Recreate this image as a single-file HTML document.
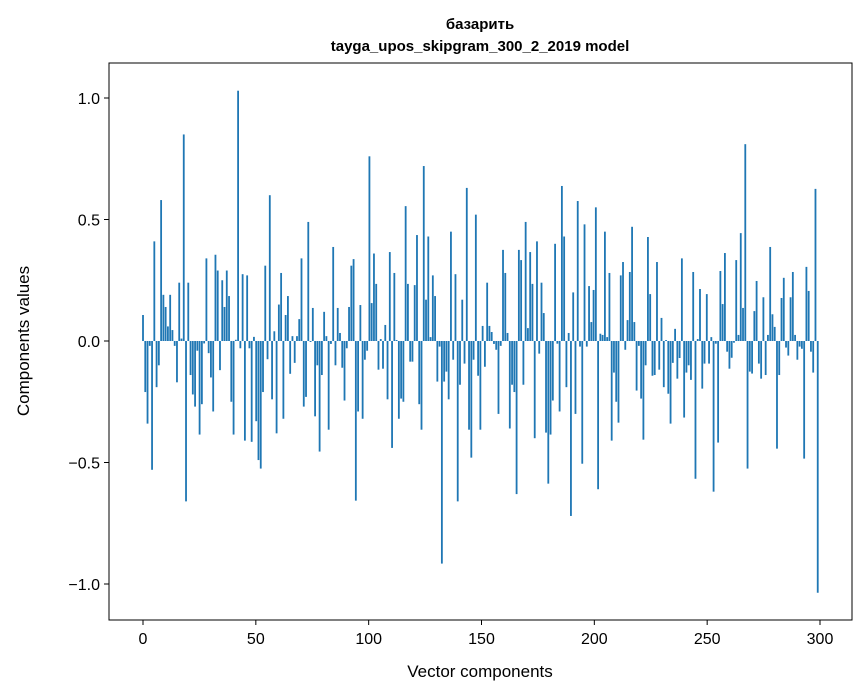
<!DOCTYPE html>
<html><head><meta charset="utf-8"><style>
html,body{margin:0;padding:0;background:#fff}
svg{display:block}
text{font-family:"Liberation Sans","DejaVu Sans",sans-serif;fill:#000}
</style></head><body>
<svg id="s" width="867" height="696" viewBox="0 0 867 696" xmlns="http://www.w3.org/2000/svg">
<rect width="867" height="696" fill="#fff"/>
<text x="480" y="29" text-anchor="middle" font-size="15" font-weight="bold">базарить</text>
<text x="480" y="51" text-anchor="middle" font-size="15" font-weight="bold">tayga_upos_skipgram_300_2_2019 model</text>
<g id="bars" fill="#1f77b4"></g>
<rect x="109" y="63" width="743" height="557" fill="none" stroke="#000" stroke-width="1"/>
<g id="ticks" stroke="#000" stroke-width="1"></g>
<g id="labels" font-size="16"></g>
<text x="480" y="677" text-anchor="middle" font-size="17">Vector components</text>
<text transform="translate(29,341) rotate(-90)" text-anchor="middle" font-size="17">Components values</text>
</svg>
<script>
var v=[0.107,-0.21,-0.34,-0.02,-0.53,0.41,-0.19,-0.10,0.58,0.19,0.14,0.06,0.19,0.045,-0.02,-0.17,0.24,0.01,0.85,-0.66,0.24,-0.14,-0.22,-0.27,-0.04,-0.385,-0.26,-0.01,0.34,-0.05,-0.15,-0.29,0.355,0.29,-0.12,0.25,0.14,0.29,0.185,-0.25,-0.385,0.005,1.03,-0.03,0.275,-0.41,0.27,-0.03,-0.415,0.017,-0.33,-0.49,-0.525,-0.21,0.31,-0.075,0.6,-0.24,0.04,
-0.38,0.15,0.28,-0.32,0.107,0.185,-0.135,0.02,-0.09,0.02,0.09,0.34,-0.27,-0.23,0.49,-0.004,0.136,-0.31,-0.10,-0.455,-0.14,0.12,0.02,-0.365,-0.012,0.387,-0.10,0.136,0.033,-0.11,-0.245,-0.03,0.14,0.31,0.337,-0.657,-0.29,0.148,-0.32,-0.077,-0.04,0.76,0.156,0.36,0.235,-0.118,0.008,-0.114,0.066,-0.24,0.366,-0.44,0.28,0.004,-0.32,-0.237,-0.25,0.555,0.235,-0.085,
-0.085,0.23,0.436,-0.26,-0.365,0.72,0.17,0.43,0.016,0.27,0.185,-0.167,-0.023,-0.916,-0.167,-0.126,-0.24,0.45,-0.077,0.275,-0.66,-0.18,0.17,-0.093,0.63,-0.365,-0.48,-0.077,0.52,-0.143,-0.365,0.062,-0.106,0.24,0.062,0.037,-0.012,-0.036,-0.30,-0.02,0.375,0.28,0.033,-0.36,-0.18,-0.21,-0.63,0.375,0.333,-0.18,0.49,0.053,0.366,0.235,-0.40,0.41,-0.052,0.24,0.115,-0.377,
-0.587,-0.385,-0.245,0.40,-0.011,-0.29,0.638,0.43,-0.19,0.033,-0.72,0.20,-0.30,0.576,-0.023,-0.505,0.48,-0.023,0.226,0.078,0.21,0.55,-0.61,0.03,0.025,0.45,0.016,0.28,-0.41,-0.13,-0.25,-0.336,0.27,0.325,-0.036,0.086,0.284,0.47,0.078,-0.204,-0.02,-0.237,-0.406,-0.10,0.428,0.193,-0.143,-0.14,0.325,-0.118,0.095,-0.19,0.004,-0.217,-0.34,-0.09,0.05,-0.155,-0.07,0.34,
-0.315,-0.13,-0.10,-0.16,0.284,-0.567,0.008,0.214,-0.196,-0.093,0.193,-0.093,0.016,-0.62,-0.011,-0.418,0.288,0.152,0.362,-0.044,-0.114,-0.069,-0.007,0.333,0.025,0.444,0.136,0.81,-0.525,-0.126,-0.134,0.123,0.247,-0.093,-0.155,0.18,-0.14,0.025,0.387,0.11,0.058,-0.443,-0.14,0.177,0.26,-0.027,-0.06,0.18,0.284,0.025,-0.077,-0.023,-0.032,-0.484,0.305,0.206,-0.044,-0.13,0.626,-1.036];
var NS="http://www.w3.org/2000/svg",g=document.getElementById("bars");
var x0=143,dx=677/(v.length>299?v.length-1:299),z=341,s=243,w=0.8*dx;
dx=677/299;w=0.8*2.2567;
for(var i=0;i<v.length;i++){var r=document.createElementNS(NS,"rect");var h=v[i]*s;
r.setAttribute("x",(x0+i*dx-w/2).toFixed(2));r.setAttribute("width",w.toFixed(2));
r.setAttribute("y",(h>0?z-h:z).toFixed(2));r.setAttribute("height",Math.abs(h).toFixed(2));g.appendChild(r);}
var t=document.getElementById("ticks"),L=document.getElementById("labels");
function ln(a,b,c,d){var l=document.createElementNS(NS,"line");l.setAttribute("x1",a);l.setAttribute("y1",b);l.setAttribute("x2",c);l.setAttribute("y2",d);t.appendChild(l);}
function tx(x,y,str,anc){var e=document.createElementNS(NS,"text");e.setAttribute("x",x);e.setAttribute("y",y);e.setAttribute("text-anchor",anc);e.textContent=str;L.appendChild(e);}
for(var k=0;k<=6;k++){var x=143+k*677/6;ln(x,620,x,625);tx(x,644,String(k*50),"middle");}
var yl=["1.0","0.5","0.0","\u22120.5","\u22121.0"];
for(var k=0;k<5;k++){var y=98+k*121.5;ln(104,y,109,y);tx(100,y+6,yl[k],"end");}
</script>
</body></html>
